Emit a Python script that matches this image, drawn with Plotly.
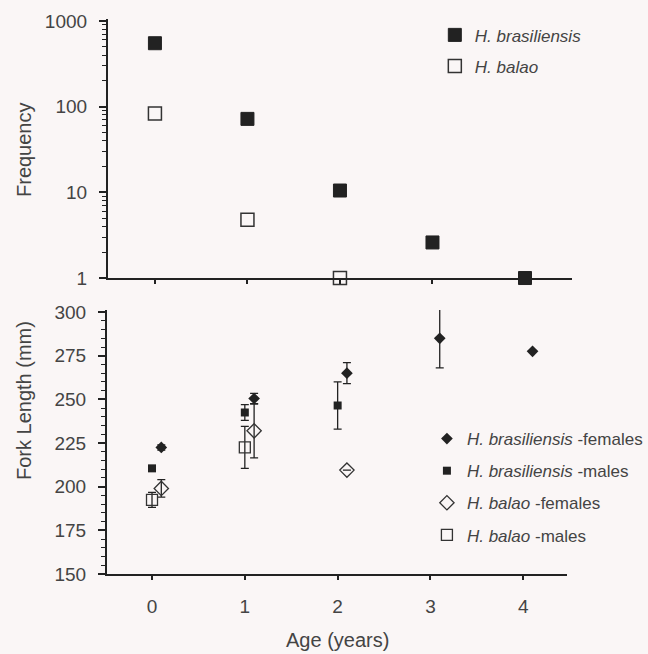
"""
Age frequency (log scale) and fork length at age for two Hemiramphus species.
Two stacked panels sharing the same age axis.
"""

import plotly.graph_objects as go

# --- data -------------------------------------------------------------
ages = [0, 1, 2, 3, 4]

# top panel: frequency at age
freq_brasiliensis = [550, 72, 10.5, 2.6, 1]
ages_balao = [0, 1, 2]
freq_balao = [83, 4.8, 1]

# bottom panel: mean fork length (mm) and error at age
fem_bras_age = [0.1, 1.1, 2.1, 3.1, 4.1]
fem_bras_fl = [222.5, 250.5, 265, 285, 277.5]
fem_bras_err = [1.5, 3, 6, 17, 0]

male_bras_age = [0, 1, 2]
male_bras_fl = [210.5, 242.5, 246.5]
male_bras_err = [1, 4.5, 13.5]

fem_balao_age = [0.1, 1.1, 2.1]
fem_balao_fl = [199, 232, 209.5]
fem_balao_err = [5, 15.5, 0]

male_balao_age = [0, 1]
male_balao_fl = [192.5, 222.5]
male_balao_err = [4.3, 12]

age_ticks = [0, 1, 2, 3, 4]
freq_ticks = [1, 10, 100, 1000]
fl_ticks = [150, 175, 200, 225, 250, 275, 300]

BG = "#faf6f6"
INK = "#222222"
TXT = "#444444"
FONT = "Liberation Sans, Arial, sans-serif"

fig = go.Figure()

# top panel
fig.add_trace(go.Scatter(
    x=ages, y=freq_brasiliensis, mode="markers", name="<i>H. brasiliensis</i>",
    marker=dict(symbol="square", size=13, color=INK, line=dict(color=INK, width=1)),
    xaxis="x", yaxis="y", legend="legend", legendgroup="a", cliponaxis=False))
fig.add_trace(go.Scatter(
    x=ages_balao, y=freq_balao, mode="markers", name="<i>H. balao</i>",
    marker=dict(symbol="square-open", size=13, color="#333333", line=dict(width=1.5)),
    xaxis="x", yaxis="y", legend="legend", legendgroup="b", cliponaxis=False))


def err(vals):
    return dict(type="data", array=vals, visible=True, color=INK, thickness=1.3, width=4)


# bottom panel
fig.add_trace(go.Scatter(
    x=fem_bras_age, y=fem_bras_fl, error_y=err(fem_bras_err), mode="markers",
    name="<i>H. brasiliensis</i> -females",
    marker=dict(symbol="diamond", size=9, color=INK),
    xaxis="x2", yaxis="y2", legend="legend2", legendgroup="c"))
fig.add_trace(go.Scatter(
    x=male_bras_age, y=male_bras_fl, error_y=err(male_bras_err), mode="markers",
    name="<i>H. brasiliensis</i> -males",
    marker=dict(symbol="square", size=8, color=INK),
    xaxis="x2", yaxis="y2", legend="legend2", legendgroup="d"))
fig.add_trace(go.Scatter(
    x=fem_balao_age, y=fem_balao_fl, error_y=err(fem_balao_err), mode="markers",
    name="<i>H. balao</i> -females",
    marker=dict(symbol="diamond-open", size=11, color="#333333", line=dict(width=1.3)),
    xaxis="x2", yaxis="y2", legend="legend2", legendgroup="e"))
fig.add_trace(go.Scatter(
    x=male_balao_age, y=male_balao_fl, error_y=err(male_balao_err), mode="markers",
    name="<i>H. balao</i> -males",
    marker=dict(symbol="square-open", size=11, color="#333333", line=dict(width=1.3)),
    xaxis="x2", yaxis="y2", legend="legend2", legendgroup="f"))

axis_common = dict(showline=True, linecolor=INK, linewidth=2, showgrid=False,
                   zeroline=False, ticks="outside", tickcolor=INK, tickwidth=1.5,
                   tickfont=dict(size=19, color=TXT, family=FONT))

fig.update_layout(
    width=648, height=654,
    paper_bgcolor=BG, plot_bgcolor=BG,
    # legends sit near the right edge; keep them from pushing the margins
    margin=dict(l=107, r=76, t=19, b=80, autoexpand=False),
    font=dict(family=FONT, color=TXT),
    xaxis=dict(axis_common, domain=[0.002, 1], anchor="y", range=[-0.508, 4.508],
               tickvals=age_ticks, showticklabels=False, ticklen=4),
    yaxis=dict(axis_common, domain=[0.5333, 1], anchor="x", type="log",
               range=[0, 3.023], tickvals=freq_ticks, ticktext=[str(v) for v in freq_ticks],
               ticklen=7, ticklabelstandoff=8,
               minor=dict(ticks="outside", ticklen=4, tickcolor=INK, tickwidth=1.3, dtick="D1")),
    xaxis2=dict(axis_common, domain=[0, 0.989], anchor="y2", range=[-0.485, 4.47],
                tickvals=age_ticks, ticklen=4, ticklabelstandoff=10),
    yaxis2=dict(axis_common, domain=[0, 0.4757], anchor="x2", range=[150, 301.2],
                tickvals=fl_ticks, ticklen=7, ticklabelstandoff=8,
                minor=dict(ticks="outside", ticklen=4, tickcolor=INK, tickwidth=1.3, dtick=5)),
    legend=dict(x=0.705, y=1.003, xanchor="left", yanchor="top", bgcolor="rgba(0,0,0,0)",
                font=dict(size=17, color=TXT), tracegroupgap=6, itemwidth=30),
    legend2=dict(x=0.688, y=0.2756, xanchor="left", yanchor="top", bgcolor="rgba(0,0,0,0)",
                 font=dict(size=17, color=TXT), tracegroupgap=7, itemwidth=30),
    annotations=[
        dict(text="Frequency", textangle=-90, x=24, y=150),
        dict(text="Fork Length (mm)", textangle=-90, x=24, y=401),
        dict(text="Age (years)", x=337, y=640),
    ],
)

# annotation positions above are given in page pixels; convert to paper fractions
plot_w = 648 - 107 - 76
plot_h = 654 - 19 - 80
for a in fig.layout.annotations:
    a.x = (a.x - 107) / plot_w
    a.y = (654 - 80 - a.y) / plot_h
    a.xref = "paper"
    a.yref = "paper"
    a.xanchor = "center"
    a.yanchor = "middle"
    a.showarrow = False
    a.font = dict(size=20, color=TXT)

# drop the default body margin so the figure sits at the page corner
fig.write_html("out.html", config={"displayModeBar": False}, post_script=(
    "document.body.style.margin='0';"
    "document.body.style.background='" + BG + "';"))
